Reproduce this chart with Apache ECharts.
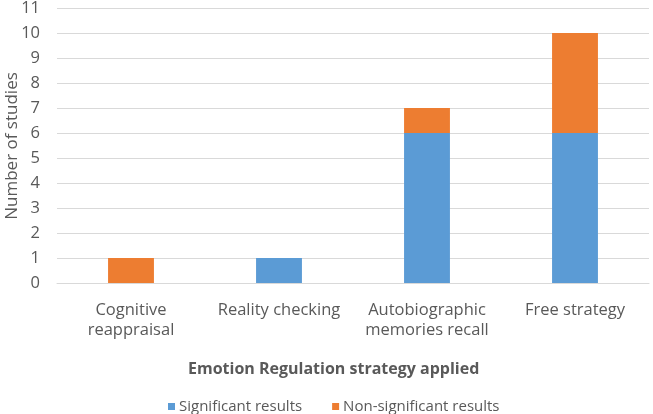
<!DOCTYPE html>
<html><head><meta charset="utf-8">
<script src="https://cdn.jsdelivr.net/npm/echarts@6/dist/echarts.min.js"></script>
<style>html,body{margin:0;padding:0;background:#fff}#c{width:653px;height:414px}</style>
</head><body><div id="c"></div>
<script>
const categories = ["Cognitive\nreappraisal", "Reality checking", "Autobiographic\nmemories recall", "Free strategy"];
const significant = [0, 1, 6, 6];
const nonSignificant = [1, 0, 1, 4];
const yTicks = { min: 0, max: 11, interval: 1 };
const seriesNames = ["Significant results", "Non-significant results"];
const xTitle = "Emotion Regulation strategy applied";
const yTitle = "Number of studies";

const font = "'Open Sans', sans-serif";
const txt = "#595959";
const chart = echarts.init(document.getElementById('c'), null, { renderer: 'canvas' });
chart.setOption({
  animation: false,
  textStyle: { fontFamily: font },
  grid: { left: 57, right: 4, top: 8, bottom: 131, containLabel: false, outerBoundsMode: 'none' },
  legend: {
    left: 163, top: 394, itemWidth: 7, itemHeight: 7, itemGap: 30, icon: 'rect',
    textStyle: { fontFamily: font, fontSize: 15, color: txt, padding: [0, 0, 0, -1] },
    data: seriesNames
  },
  graphic: [{
    type: 'text', left: 188, top: 361,
    style: { text: xTitle, font: "bold 16px 'Open Sans', sans-serif", fill: txt }
  }, {
    type: 'text', x: 12, y: 146, rotation: Math.PI / 2,
    style: { text: yTitle, font: "17px 'Open Sans', sans-serif", fill: txt, align: 'center', verticalAlign: 'middle' }
  }],
  xAxis: {
    type: 'category', data: categories,
    axisLine: { lineStyle: { color: '#d9d9d9' } },
    axisTick: { show: false },
    axisLabel: { color: txt, fontSize: 16.5, fontFamily: font, margin: 17, lineHeight: 20, interval: 0 }
  },
  yAxis: {
    type: 'value', min: yTicks.min, max: yTicks.max, interval: yTicks.interval,
    axisLine: { show: false }, axisTick: { show: false },
    axisLabel: { color: txt, fontSize: 16.5, fontFamily: font, margin: 17 },
    splitLine: { lineStyle: { color: '#d9d9d9', width: 1 } }
  },
  series: [
    { name: seriesNames[0], type: 'bar', stack: 's', data: significant, barWidth: '31%', itemStyle: { color: '#5B9BD5' } },
    { name: seriesNames[1], type: 'bar', stack: 's', data: nonSignificant, barWidth: '31%', itemStyle: { color: '#ED7D31' } }
  ]
});
</script></body></html>
